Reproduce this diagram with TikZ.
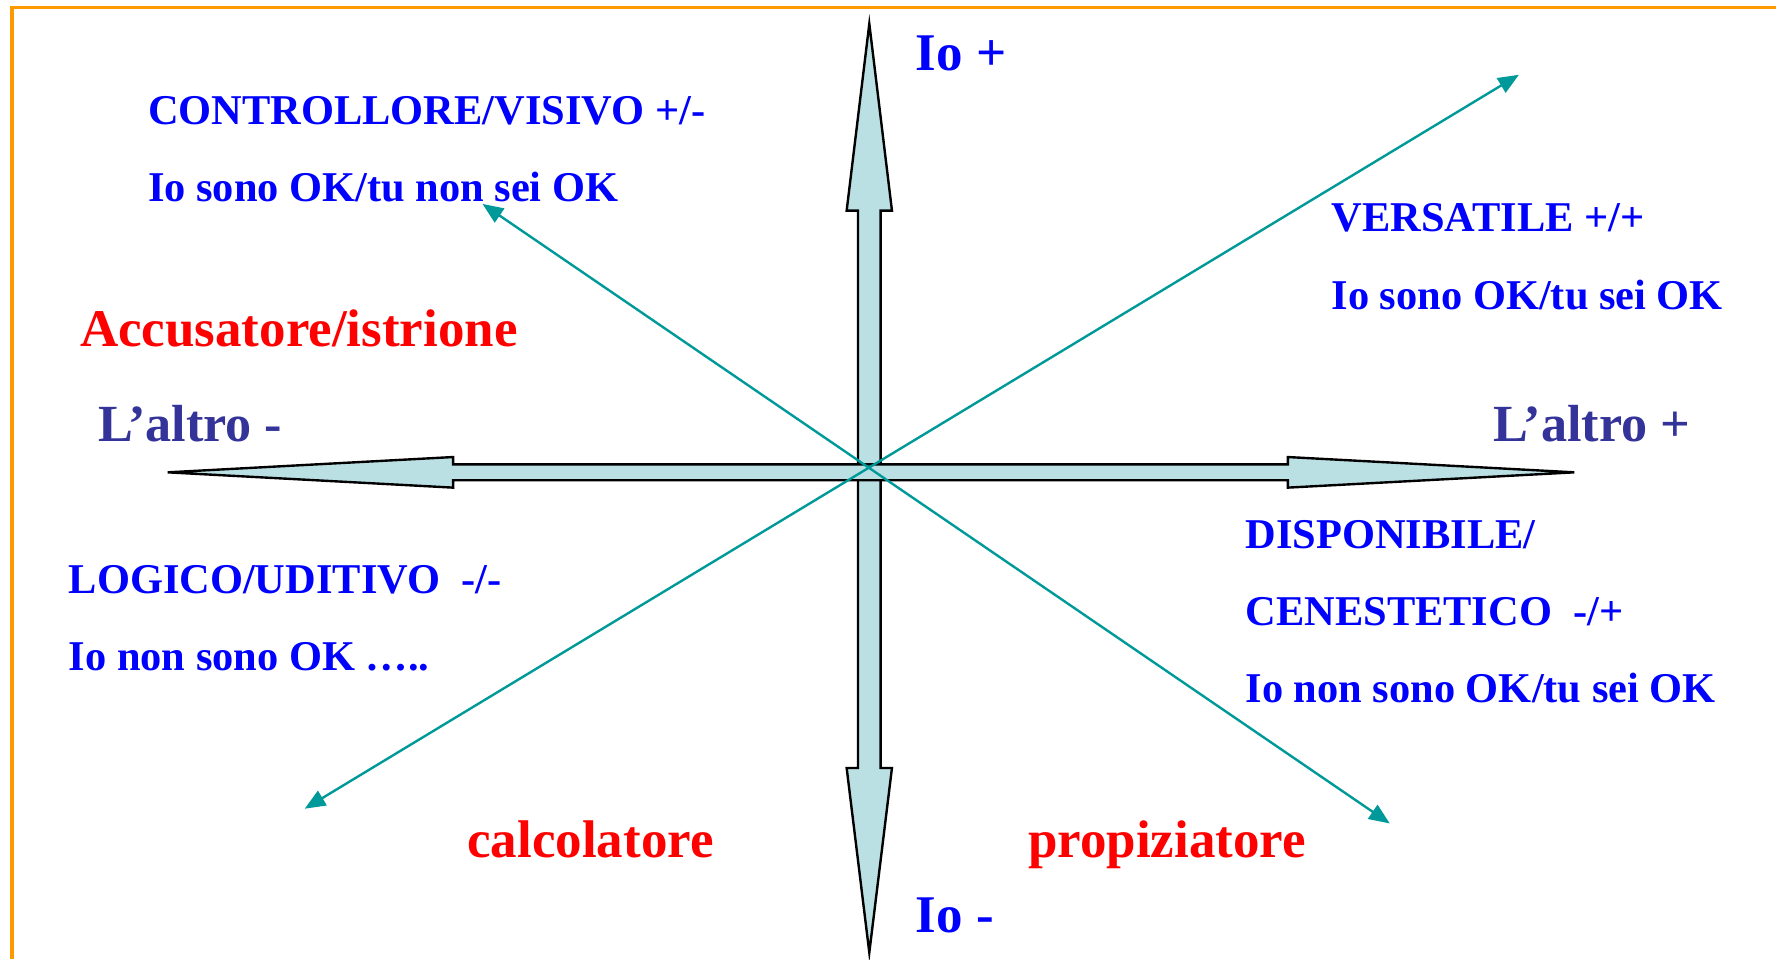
\documentclass[tikz,border=0pt]{standalone}
\usepackage{fontspec}
\setmainfont{Liberation Serif}
\usetikzlibrary{arrows.meta}
\definecolor{okblue}{RGB}{0,0,255}
\definecolor{altroblue}{RGB}{51,51,153}
\definecolor{rolered}{RGB}{255,0,0}
\definecolor{diagteal}{RGB}{0,153,153}
\definecolor{axisfill}{RGB}{186,224,228}
\definecolor{frameorange}{RGB}{255,153,0}
\tikzset{
  axis/.style={fill=axisfill,draw=black,line width=0.6pt},
  diag/.style={{Triangle[length=5.2pt,width=4.2pt]}-{Triangle[length=5.2pt,width=4.2pt]},
    draw=diagteal,line width=0.6pt},
  lab/.style={anchor=base west,inner sep=0pt,font=\bfseries\fontsize{#1}{#1}\selectfont},
  quad/.style={lab=10.65,text=okblue},
  pole/.style={lab=13.3,text=okblue},
  side/.style={lab=13.1,text=altroblue},
  role/.style={lab=13.3,text=rolered},
}
\begin{document}
\begin{tikzpicture}[x=0.01cm,y=-0.01cm]
  \useasboundingbox (0,0) rectangle (1568,847);
  \draw[frameorange,line width=0.8pt] (10.6,847) -- (10.6,6.5) -- (1568,6.5);
  % Io axis
  \filldraw[axis] (767.5,21) -- (787.5,186) -- (777.5,186) -- (777.5,678) -- (787.5,678)
    -- (767.5,841) -- (747.5,678) -- (757.5,678) -- (757.5,186) -- (747.5,186) -- cycle;
  % altro axis
  \filldraw[axis] (148,417) -- (400,403.5) -- (400,410) -- (1137,410) -- (1137,403.5)
    -- (1390,417) -- (1137,430.5) -- (1137,424) -- (400,424) -- (400,430.5) -- cycle;
  % diagonals
  \coordinate (sw) at (269,714);
  \coordinate (ne) at (1341,66);
  \coordinate (nw) at (426,180);
  \coordinate (se) at (1227,727);
  \draw[diag] (sw) -- (ne);
  \draw[diag] (nw) -- (se);
  % poles
  \node[pole] (iop) at (808,62) {Io +};
  \node[pole] (iom) at (808,823) {Io -};
  \node[side] (altm) at (86,390) {L’altro -};
  \node[side] (altp) at (1318,390) {L’altro +};
  % quadrants
  \node[quad] (ctrl1) at (130,110) {CONTROLLORE/VISIVO +/-};
  \node[quad] (ctrl2) at (130,178) {Io sono OK/tu non sei OK};
  \node[quad] (vers1) at (1175,204) {VERSATILE +/+};
  \node[quad] (vers2) at (1175,273) {Io sono OK/tu sei OK};
  \node[quad] (log1) at (60,524) {LOGICO/UDITIVO\ \ -/-};
  \node[quad] (log2) at (60,592) {Io non sono OK …..};
  \node[quad] (disp1) at (1099,484) {DISPONIBILE/};
  \node[quad] (disp2) at (1099,552) {CENESTETICO\ \ -/+};
  \node[quad] (disp3) at (1099,620) {Io non sono OK/tu sei OK};
  % roles
  \node[role] (acc) at (70,306) {Accusatore/istrione};
  \node[role] (calc) at (412,757) {calcolatore};
  \node[role] (prop) at (907,757) {propiziatore};
\end{tikzpicture}
\end{document}
